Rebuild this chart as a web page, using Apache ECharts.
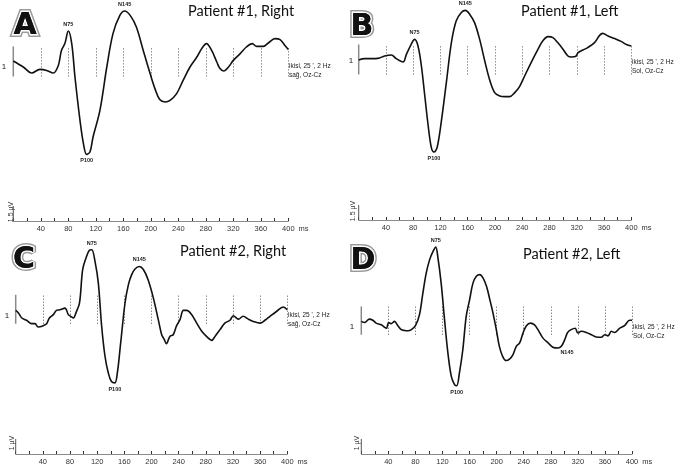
<!DOCTYPE html>
<html><head><meta charset="utf-8">
<script src="https://cdn.jsdelivr.net/npm/echarts@6/dist/echarts.min.js"></script>
<style>html,body{margin:0;padding:0;background:#fff}#c{width:676px;height:466px}</style>
</head><body><div id="c"></div>
<script>
// ---- data (time in ms, amplitude in µV relative to pre-stimulus baseline, up = negative peak "N") ----
const timeA = [0,14.5,26.7,38.8,48.5,58,65.5,70,75,80,85,89.7,97,102,106.7,111.5,116,126,136,145,155,162,170,179,189,199,206,213,221,228,237.6,247,257,267,274,281,288.5,296,300.6,306,313,320,330,339,347.6,354,363.6,371,380.6,388,395,400];
const ampA  = [0,-0.30,-0.60,-0.42,-0.47,-0.60,-0.22,0.53,0.87,1.50,0.87,-0.80,-2.97,-4.13,-4.67,-4.55,-3.80,-2.47,-0.30,1.37,2.28,2.50,2.28,1.70,0.53,-0.63,-1.38,-1.93,-2.05,-1.97,-1.63,-0.97,-0.30,0.20,0.62,0.87,0.53,-0.05,-0.38,-0.50,-0.30,0.03,0.37,0.70,0.87,0.73,0.73,0.90,1.12,1.07,0.78,0.57];

const timeB = [0,8.8,18.6,28,38,48,55,65,70,77,82,87,92,97,102,106.6,110.5,115,121,128.6,136,143,150.6,156.5,163,170,177.5,185,192,199.5,207,214,221.5,229,236,243.5,253,263,270,277.8,285,292,300,307,312,318,322,329,336,346,353.5,358,366,375.5,385,392.7,400];
const ampB  = [0,0.07,0.07,0.08,0.20,0.25,0.07,-0.10,0.28,0.78,1.03,0.70,-0.30,-1.80,-3.30,-4.38,-4.60,-4.38,-3.13,-1.13,0.87,1.95,2.37,2.48,2.28,1.87,1.03,-0.05,-0.97,-1.63,-1.80,-1.83,-1.83,-1.63,-1.33,-0.80,-0.13,0.53,0.95,1.17,1.12,0.87,0.53,0.20,0.15,0.17,0.37,0.50,0.62,0.87,1.23,1.33,1.20,1.07,0.93,0.78,0.70];

const timeC = [0,4,9,16,23.5,28.5,33,40.7,45.6,49.6,55.5,60,65,72.6,77.5,81,85,89,94,98.6,103.6,108.5,112,116.8,121.7,126.6,131.5,136.4,141,146,149.7,154.6,161,166,170.8,175.7,182,188,195,202.7,210,215,218.4,222,227,232,237,242,247,252,259,266.5,274,281,288.6,293.5,301,308,315.6,320.5,328,335,342.6,350,360,367,374.5,384,394,400];
const ampC  = [0,-0.09,-0.27,-0.35,-0.47,-0.47,-0.59,-0.54,-0.47,-0.27,-0.15,0,0.02,0.08,-0.15,-0.21,-0.27,-0.07,0.26,1.44,1.85,2.12,2.14,1.73,0.96,-0.56,-1.62,-2.21,-2.51,-2.56,-2.21,-1.15,0.26,0.91,1.26,1.46,1.55,1.44,1.08,0.44,-0.33,-0.86,-1.01,-1.18,-0.92,-0.86,-0.54,-0.33,0,0,-0.15,-0.45,-0.74,-0.92,-1.06,-0.92,-0.68,-0.45,-0.35,-0.19,-0.31,-0.21,-0.31,-0.39,-0.45,-0.35,-0.21,-0.04,0.12,0.02];

const timeD = [0,5,12,17,22,29.5,37,40.4,44,49,54,59,64,69,74,80,86,91,96,101,106,110,113,118,123,128,133,138,141,145,150,155,160,165,170,175,180,185,190,194.6,199.5,204,209,214,219,224,229,234,239,244,250,256,261,268.5,276,283,290.6,295.6,300.5,305,310,316,320,325,332.5,340,347,354.7,359.6,364.5,369.5,374,382,389,396.5,400];
const ampD  = [0,-0.04,0.08,0.04,-0.06,-0.12,-0.24,-0.04,-0.08,0,-0.15,-0.29,-0.32,-0.33,-0.29,-0.15,0.24,1.00,1.71,2.18,2.47,2.62,2.29,1.35,0.06,-1.12,-1.94,-2.24,-2.27,-1.82,-1.00,0.18,0.76,1.35,1.59,1.65,1.53,1.24,0.76,0.29,-0.29,-0.88,-1.24,-1.38,-1.33,-1.18,-0.88,-0.76,-0.41,-0.15,-0.06,-0.12,-0.29,-0.59,-0.76,-0.91,-0.94,-0.88,-0.65,-0.39,-0.29,-0.24,-0.41,-0.35,-0.39,-0.47,-0.55,-0.56,-0.47,-0.51,-0.35,-0.39,-0.24,-0.15,0.04,0.04];

// peak annotations: [label, time, amplitude, position]
const peaksA = [['N75',80,1.50,'top'],['P100',106.7,-4.67,'bottom'],['N145',162,2.50,'top']];
const peaksB = [['N75',82,1.03,'top'],['P100',110.5,-4.60,'bottom'],['N145',156.5,2.48,'top']];
const peaksC = [['N75',112,2.14,'top'],['P100',146,-2.56,'bottom'],['N145',182,1.55,'top']];
const peaksD = [['N75',110,2.62,'top'],['P100',141,-2.27,'bottom'],['N145',298,-1.02,'inside']];

const markerTimes = [40,80,120,160,200,240,280,320,360,400];
const titles  = ['Patient #1, Right','Patient #1, Left','Patient #2, Right','Patient #2, Left'];
const letters = ['A','B','C','D'];
const sideTop = ['ikisi, 25 \', 2 Hz','ikisi, 25 \', 2 Hz','ikisi, 25 \', 2 Hz','ikisi, 25 \', 2 Hz'];
const sideBot = ['sağ, Oz-Cz','Sol, Oz-Cz','sağ, Oz-Cz','Sol, Oz-Cz'];
const calib   = ['1.5 µV','1.5 µV','1 µV','1 µV'];

// ---- layout ----
const panels = [
  {t:timeA,v:ampA,pk:peaksA,grid:{left:13.3,right:387.7,top:1,bottom:245},ymin:-8,ymax:3,dot:[-0.77,0.73],cal:0.75,
   title:[188,13],letter:[25,26],side:[289,71],one:[4,67],calTxt:[11,212]},
  {t:timeB,v:ampB,pk:peaksB,grid:{left:358.7,right:44.7,top:0,bottom:246},ymin:-8,ymax:3,dot:[-0.72,0.78],cal:0.75,
   title:[521,13],letter:[362,27],side:[632,67],one:[351,61],calTxt:[353,211]},
  {t:timeC,v:ampC,pk:peaksC,grid:{left:15.7,right:388.7,top:227.33,bottom:12},ymin:-5.07,ymax:2.93,dot:[-0.47,0.55],cal:0.53,
   title:[180,253],letter:[24,260],side:[288,320],one:[7,316],calTxt:[12,443]},
  {t:timeD,v:ampD,pk:peaksD,grid:{left:361.3,right:44,top:227.33,bottom:12},ymin:-4.68,ymax:3.32,dot:[-0.47,0.53],cal:0.53,
   title:[523,256],letter:[363,261],side:[633,332],one:[352,327],calTxt:[357,443]}
];

const grids=[],xAxes=[],yAxes=[],series=[],graphics=[];
panels.forEach((p,i)=>{
  grids.push(p.grid);
  xAxes.push({type:'value',gridIndex:i,min:0,max:400,interval:20,position:'bottom',
    axisLine:{show:true,onZero:false,lineStyle:{color:'#8a8a8a',width:1}},
    axisTick:{show:true,inside:true,length:3,lineStyle:{color:'#333',width:1}},
    splitLine:{show:false},
    axisLabel:{show:true,margin:4,fontSize:7.5,color:'#333',fontFamily:'Liberation Sans',
      formatter:v=>(v>0&&v%40===0)?String(v):''},
    name:'ms',nameLocation:'end',nameGap:7,
    nameTextStyle:{fontSize:7.5,color:'#333',fontFamily:'Liberation Sans',verticalAlign:'top',padding:[4,0,0,0]}
  });
  yAxes.push({type:'value',gridIndex:i,min:p.ymin,max:p.ymax,show:false,splitLine:{show:false}});
  // trace
  series.push({type:'line',xAxisIndex:i,yAxisIndex:i,data:p.t.map((t,k)=>[t,p.v[k]]),
    smooth:0.35,showSymbol:false,symbol:'none',clip:false,
    lineStyle:{color:'#111',width:1.6},z:5,silent:true,
    markLine:{silent:true,symbol:['none','none'],label:{show:false},animation:false,
      lineStyle:{type:[1,2],color:'#555',width:1},
      data:markerTimes.map(m=>[{coord:[m,p.dot[0]]},{coord:[m,p.dot[1]]}])},
    markPoint:{silent:true,symbol:'circle',symbolSize:1,itemStyle:{color:'rgba(0,0,0,0)'},animation:false,
      data:p.pk.map(q=>({coord:[q[1],q[2]],label:{show:true,formatter:q[0],position:q[3],distance:3,
        fontSize:5.5,fontWeight:'bold',color:'#222',fontFamily:'Liberation Sans',
        offset:q[3]==='inside'?[4,2]:[0,0]}}))}
  });
  // channel bar at 0 ms
  series.push({type:'line',xAxisIndex:i,yAxisIndex:i,data:[[0,p.dot[0]],[0,p.dot[1]]],
    showSymbol:false,symbol:'none',silent:true,lineStyle:{color:'#8a8a8a',width:1.5},z:3});
  // calibration bar at 0 ms above axis
  series.push({type:'line',xAxisIndex:i,yAxisIndex:i,data:[[0,p.ymin],[0,p.ymin+p.cal]],
    showSymbol:false,symbol:'none',silent:true,clip:false,lineStyle:{color:'#555',width:1},z:3});

  // titles
  graphics.push({type:'text',left:p.title[0],top:p.title[1]-9,silent:true,
    style:{text:titles[i],fontSize:14.5,fontFamily:'Lato',fill:'#111'}});
  // letters: gray outer rim, white inner rim, black fill
  [[ '#9a9a9a',6],['#ffffff',3],[null,0]].forEach(([stroke,w],k)=>{
    graphics.push({type:'text',x:p.letter[0],y:p.letter[1],silent:true,z:10+k,
      style:{text:letters[i],fontSize:30,fontWeight:'bold',fontFamily:'DejaVu Sans',
        align:'center',verticalAlign:'middle',fill:'#111',
        stroke:stroke||'transparent',lineWidth:w,lineJoin:'round'}});
  });
  // side annotation
  graphics.push({type:'text',x:p.side[0],y:p.side[1],silent:true,
    style:{text:sideTop[i]+'\n'+sideBot[i],fontSize:6.5,lineHeight:9,fontFamily:'Liberation Sans',fill:'#222',verticalAlign:'middle'}});
  // channel number
  graphics.push({type:'text',x:p.one[0],y:p.one[1],silent:true,
    style:{text:'1',fontSize:8,fontFamily:'Liberation Sans',fill:'#222',align:'center',verticalAlign:'middle'}});
  // calibration label (rotated)
  graphics.push({type:'text',x:p.calTxt[0],y:p.calTxt[1],rotation:Math.PI/2,silent:true,
    style:{text:calib[i],fontSize:7,fontFamily:'Liberation Sans',fill:'#333',align:'center',verticalAlign:'middle'}});
});

const chart = echarts.init(document.getElementById('c'),null,{renderer:'canvas'});
chart.setOption({animation:false,backgroundColor:'#fff',grid:grids,xAxis:xAxes,yAxis:yAxes,series:series,graphic:graphics});
</script></body></html>
